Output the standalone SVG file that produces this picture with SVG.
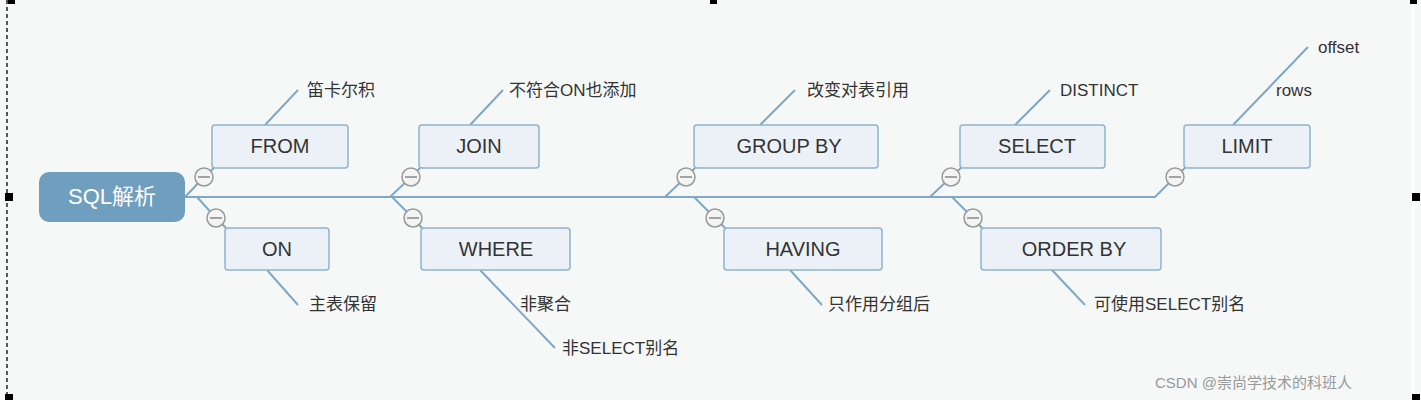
<svg xmlns="http://www.w3.org/2000/svg" width="1421" height="400" viewBox="0 0 1421 400">
<style>
.box{fill:#ebf1f6;stroke:#8fb3cc;stroke-width:1.5}
.bt{font-family:"Liberation Sans","Noto Sans CJK SC",sans-serif;font-size:20px;fill:#333;text-anchor:middle}
.lt{font-family:"Liberation Sans","Noto Sans CJK SC",sans-serif;font-size:17px;fill:#333}
.ln{stroke:#7fa8c4;stroke-width:2;fill:none}
.cc{fill:#f4f4f4;stroke:#999;stroke-width:1.5}
.cm{stroke:#888;stroke-width:1.5}
</style>
<rect width="1421" height="400" fill="#f6f8f8"/>
<line x1="7" y1="0" x2="7" y2="400" stroke="#222" stroke-width="1.5" stroke-dasharray="4,3"/>
<line x1="1413" y1="0" x2="1413" y2="400" stroke="#fff" stroke-width="3"/>
<g fill="#000"><rect x="8" y="0" width="7" height="4"/><rect x="710" y="0" width="7" height="4"/><rect x="1410" y="0" width="7" height="4"/><rect x="5" y="193" width="8" height="8"/><rect x="1412" y="193" width="8" height="8"/><rect x="5" y="394" width="8" height="6"/><rect x="1412" y="394" width="8" height="6"/></g>
<g id="connectors">
<path class="ln" d="M185 197 H1155 L1175 177"/>
<path class="ln" d="M185 197 L204 177 L214 168 M197 197 L216 218 L226 228"/>
<path class="ln" d="M390 197 L411 177 L420 168 M392 197 L413 218 L422 228"/>
<path class="ln" d="M665 197 L686 177 L695 168 M694 197 L715 218 L725 228"/>
<path class="ln" d="M930 197 L951 177 L961 168 M952 197 L973 218 L982 228"/>
<path class="ln" d="M1175 177 L1185 168"/>
<path class="ln" d="M265 125 L298 90 M267 270 L298 305 M470 125 L503 90 M480 270 L555 348 M760 125 L795 90 M790 270 L822 305 M1015 125 L1050 90 M1052 270 L1085 305 M1233 125 L1308 47"/>
</g>
<g id="collapse">
<g transform="translate(204,177)"><circle class="cc" r="9"/><line class="cm" x1="-6" x2="6"/></g>
<g transform="translate(216,218)"><circle class="cc" r="9"/><line class="cm" x1="-6" x2="6"/></g>
<g transform="translate(411,177)"><circle class="cc" r="9"/><line class="cm" x1="-6" x2="6"/></g>
<g transform="translate(413,218)"><circle class="cc" r="9"/><line class="cm" x1="-6" x2="6"/></g>
<g transform="translate(686,177)"><circle class="cc" r="9"/><line class="cm" x1="-6" x2="6"/></g>
<g transform="translate(715,218)"><circle class="cc" r="9"/><line class="cm" x1="-6" x2="6"/></g>
<g transform="translate(951,177)"><circle class="cc" r="9"/><line class="cm" x1="-6" x2="6"/></g>
<g transform="translate(973,218)"><circle class="cc" r="9"/><line class="cm" x1="-6" x2="6"/></g>
<g transform="translate(1175,177)"><circle class="cc" r="9"/><line class="cm" x1="-6" x2="6"/></g>
</g>
<g id="root"><rect x="39" y="172" width="146" height="50" rx="10" fill="#6f9ebf"/><text x="112" y="204" class="bt" style="fill:#fff;font-size:22px">SQL解析</text></g>
<g id="from"><rect class="box" x="212" y="125" width="136" height="43" rx="3"/><text class="bt" x="280" y="153">FROM</text></g>
<g id="on"><rect class="box" x="225" y="228" width="104" height="42" rx="3"/><text class="bt" x="277" y="256">ON</text></g>
<g id="join"><rect class="box" x="419" y="125" width="120" height="43" rx="3"/><text class="bt" x="479" y="153">JOIN</text></g>
<g id="where"><rect class="box" x="421" y="228" width="149" height="42" rx="3"/><text class="bt" x="496" y="256">WHERE</text></g>
<g id="groupby"><rect class="box" x="694" y="125" width="184" height="43" rx="3"/><text class="bt" x="789" y="153">GROUP BY</text></g>
<g id="having"><rect class="box" x="724" y="228" width="158" height="42" rx="3"/><text class="bt" x="803" y="256">HAVING</text></g>
<g id="select"><rect class="box" x="960" y="125" width="145" height="43" rx="3"/><text class="bt" x="1037" y="153">SELECT</text></g>
<g id="orderby"><rect class="box" x="981" y="228" width="180" height="42" rx="3"/><text class="bt" x="1074" y="256">ORDER BY</text></g>
<g id="limit"><rect class="box" x="1184" y="125" width="126" height="43" rx="3"/><text class="bt" x="1247" y="153">LIMIT</text></g>
<g id="leaves">
<text class="lt" x="307" y="96">笛卡尔积</text>
<text class="lt" x="309" y="310">主表保留</text>
<text class="lt" x="509" y="96">不符合ON也添加</text>
<text class="lt" x="520" y="310">非聚合</text>
<text class="lt" x="562" y="354">非SELECT别名</text>
<text class="lt" x="807" y="96">改变对表引用</text>
<text class="lt" x="828" y="310">只作用分组后</text>
<text class="lt" x="1060" y="96">DISTINCT</text>
<text class="lt" x="1094" y="310">可使用SELECT别名</text>
<text class="lt" x="1318" y="53">offset</text>
<text class="lt" x="1276" y="96">rows</text>
</g>
<text x="1155" y="388" style="font-family:'Liberation Sans','Noto Sans CJK SC',sans-serif;font-size:15px;fill:#999">CSDN @崇尚学技术的科班人</text>
</svg>
